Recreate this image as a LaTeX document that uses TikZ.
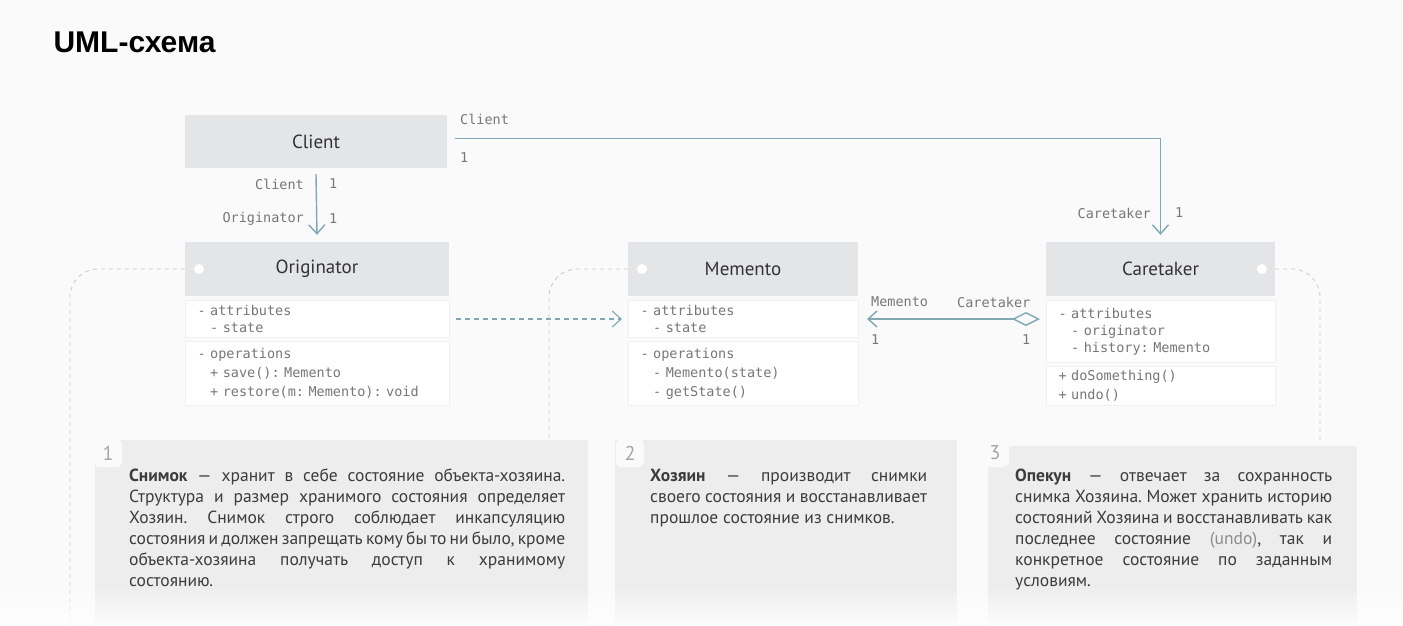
\documentclass[tikz,border=0pt]{standalone}
\usepackage{fontspec}
\setmainfont{PT Sans}
\setsansfont{Liberation Sans}
\setmonofont{DejaVu Sans Mono}
\usepackage{xcolor}
\usepackage{tikz}
\usetikzlibrary{positioning,arrows.meta,backgrounds,fadings}
\definecolor{cBg}{HTML}{FAFAFA}
\definecolor{cHead}{HTML}{E4E5E6}
\definecolor{cLink}{HTML}{7EA9B5}
\definecolor{cPanel}{HTML}{EDEDED}
\definecolor{cGuide}{HTML}{CBCBCB}
\definecolor{cMono}{HTML}{777777}
\definecolor{cText}{HTML}{3C3C3C}

\begin{document}
\frenchspacing
\hyphenpenalty=10000
\exhyphenpenalty=10000
\tolerance=10000
\begin{tikzpicture}[x=1pt,y=-1pt]
  \tikzset{
    hdr/.style={fill=cHead, minimum height=54pt, inner sep=0pt, font=\fontsize{19}{21}\selectfont, text=black!80},
    sect/.style={fill=white, draw=black!6, line width=1pt, anchor=north west, inner xsep=12pt, inner ysep=0pt,
      align=left, font=\ttfamily\fontsize{13.5}{17}\selectfont, text=cMono},
    dot/.style={circle, fill=white, inner sep=0pt, minimum size=10pt},
    mlbl/.style={font=\ttfamily\fontsize{13.5}{16}\selectfont, text=cMono, inner sep=0pt},
    link/.style={draw=cLink, line width=1.4pt},
    opentip/.style={-{Straight Barb[length=9pt, width=16pt]}},
    guide/.style={draw=cGuide, line width=0.9pt, dash pattern=on 4pt off 4pt, rounded corners=28pt},
    panel/.style={fill=cPanel},
    num/.style={fill=cBg, rounded corners=6pt, minimum size=28pt, inner sep=0pt, font=\fontsize{20}{22}\selectfont, text=black!35},
    desc/.style={anchor=north west, inner sep=0pt, align=justify, text=cText, font=\fontsize{17.5}{21}\selectfont},
  }
  \begin{scope}[on background layer]
    \fill[cBg] (0,0) rectangle (1403,625);
  \end{scope}
  \useasboundingbox (0,0) rectangle (1403,625);

  % title
  \node[anchor=west, font=\sffamily\bfseries\fontsize{30}{32}\selectfont] (title) at (50,42) {UML-схема};

  % description panels
  \fill[panel] (95,440) rectangle (588,625);
  \fill[panel] (615,440) rectangle (957,625);
  \fill[panel] (988,446) rectangle (1357,625);
  \node[num] (n1) at (108,453) {1};
  \node[num] (n2) at (630,453) {2};
  \node[num] (n3) at (995,453) {3};
  \node[desc, text width=436pt] (d1) at (129,469) {\textbf{Снимок} — хранит в себе состояние объекта-хозяина.\linebreak
    Структура и размер хранимого состояния определяет\linebreak
    Хозяин. Снимок строго соблюдает инкапсуляцию\linebreak
    состояния и должен запрещать кому бы то ни было, кроме\linebreak
    объекта-хозяина получать доступ к хранимому\linebreak
    состоянию.};
  \node[desc, text width=277pt] (d2) at (650,469) {\textbf{Хозяин} — производит снимки\linebreak
    своего состояния и восстанавливает\linebreak
    прошлое состояние из снимков.};
  \node[desc, text width=317pt] (d3) at (1015,469) {\textbf{Опекун} — отвечает за сохранность\linebreak
    снимка Хозяина. Может хранить историю\linebreak
    состояний Хозяина и восстанавливать как\linebreak
    последнее состояние {\color{black!45}(undo)}, так и\linebreak
    конкретное состояние по заданным\linebreak
    условиям.};

  % client
  \node[hdr, minimum width=262pt, minimum height=53pt] (client) at (316,141.5) {Client};

  % originator
  \node[hdr, minimum width=264pt] (origHead) at (317,269) {Originator};
  \node[dot] (origDot) at (199,269) {};
  \node[sect, text width=240pt, minimum height=37pt] (origAttr) at (185,300) {- attributes\\\hphantom{- }- state};
  \node[sect, text width=240pt, minimum height=64pt, font=\ttfamily\fontsize{13.5}{19}\selectfont] (origOps) at (185,341)
    {- operations\\\hphantom{- }+ save(): Memento\\\hphantom{- }+ restore(m: Memento): void};

  % memento
  \node[hdr, minimum width=230pt] (memHead) at (743,269) {Memento};
  \node[dot] (memDot) at (642,269) {};
  \node[sect, text width=206pt, minimum height=37pt] (memAttr) at (628,300) {- attributes\\\hphantom{- }- state};
  \node[sect, text width=206pt, minimum height=64pt, font=\ttfamily\fontsize{13.5}{19}\selectfont] (memOps) at (628,341)
    {- operations\\\hphantom{- }- Memento(state)\\\hphantom{- }- getState()};

  % caretaker
  \node[hdr, minimum width=229pt] (careHead) at (1160.5,269) {Caretaker};
  \node[dot] (careDot) at (1262,269) {};
  \node[sect, text width=205pt, minimum height=62pt] (careAttr) at (1046,300)
    {- attributes\\\hphantom{- }- originator\\\hphantom{- }- history: Memento};
  \node[sect, text width=205pt, minimum height=39pt, font=\ttfamily\fontsize{13.5}{19}\selectfont] (careOps) at (1046,366)
    {+ doSomething()\\+ undo()};

  % dashed guides behind the boxes
  \begin{scope}[on background layer]
    \draw[guide] (origHead.west) -| (70,625);
    \draw[guide] (memHead.west) -| (549,445);
    \draw[guide] (careHead.east) -| (1320,443);
  \end{scope}

  % associations
  \draw[link, opentip] ([yshift=-6pt]client.south) -- ([yshift=7pt]origHead.north);
  \draw[link, opentip] ([xshift=8pt, yshift=3pt]client.east) -| ([yshift=7pt]careHead.north);
  \draw[link, line width=1.1pt, dash pattern=on 5pt off 4pt, opentip] ([xshift=6pt]origAttr.east) -- ([xshift=-6pt]memAttr.west);
  \coordinate (aggS) at ([xshift=-6pt]careAttr.west |- memAttr.east);
  \draw[link, {Diamond[open, length=28pt, width=14pt]}-{Straight Barb[length=9pt, width=16pt]}] (aggS) -- ([xshift=8pt]memAttr.east);

  % role labels
  \node[mlbl, anchor=east] (lClientA) at (304,184) {Client};
  \node[mlbl, anchor=west] (lOneA) at (329,184) {1};
  \node[mlbl, anchor=east] (lOrig) at (304,219) {Originator};
  \node[mlbl, anchor=west] (lOneB) at (329,219) {1};
  \node[mlbl, anchor=west] (lClientB) at (460,119) {Client};
  \node[mlbl, anchor=west] (lOneC) at (460,158) {1};
  \node[mlbl, anchor=east] (lCareA) at (1151,213) {Caretaker};
  \node[mlbl, anchor=west] (lOneD) at (1175,213) {1};
  \node[mlbl, anchor=west] (lMem) at (871,302) {Memento};
  \node[mlbl, anchor=west] (lCareB) at (957,302) {Caretaker};
  \node[mlbl, anchor=west] (lOneE) at (871,340) {1};
  \node[mlbl, anchor=west] (lOneF) at (1022,340) {1};

  % fade at the bottom edge
  \fill[white, opacity=0.85, path fading=north] (0,585) rectangle (1403,625);
\end{tikzpicture}
\end{document}
